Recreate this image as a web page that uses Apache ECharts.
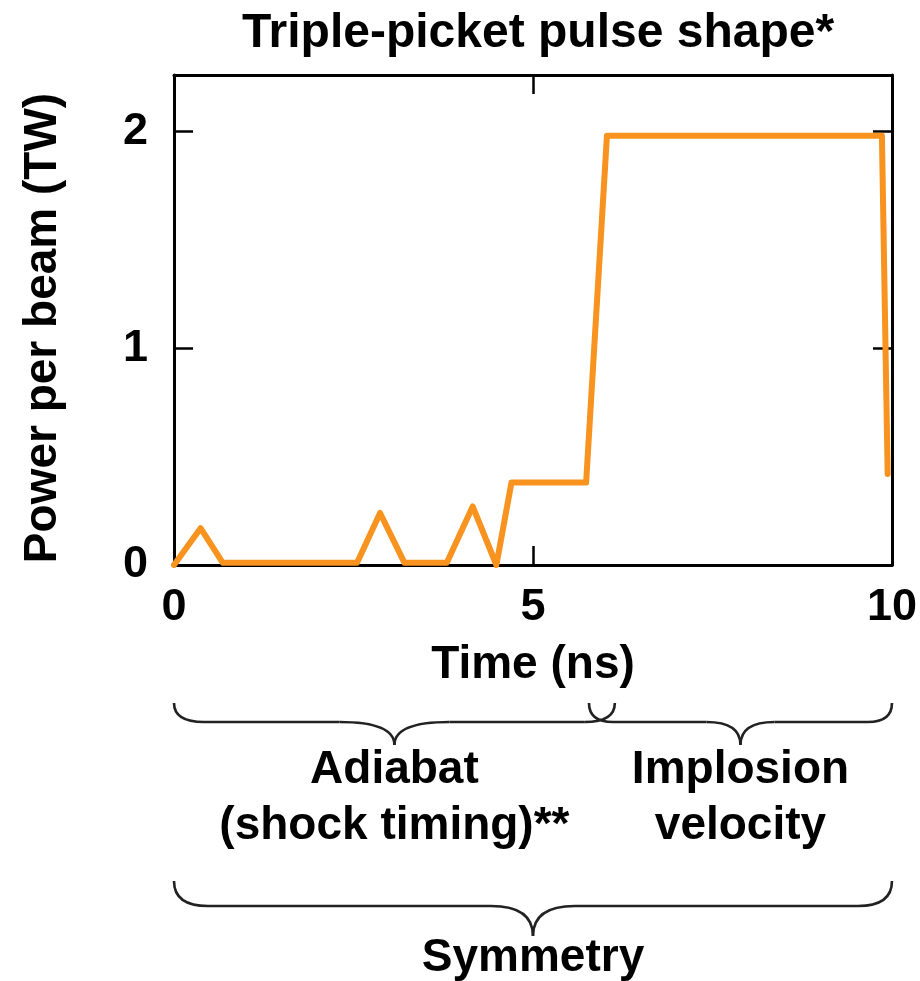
<!DOCTYPE html>
<html>
<head>
<meta charset="utf-8">
<script src="https://cdn.jsdelivr.net/npm/echarts@6/dist/echarts.min.js"></script>
<style>html,body{margin:0;padding:0;background:#fff}#chart{width:920px;height:981px}</style>
</head>
<body>
<div id="chart"></div>
<script>
// ---- data ----
var titleText = 'Triple-picket pulse shape*';
var xName = 'Time (ns)';
var yName = 'Power per beam (TW)';
var times = [0, 0.37, 0.68, 2.55, 2.87, 3.21, 3.80, 4.16, 4.49, 4.70, 5.74, 6.03, 9.86, 9.94];
var power = [0, 0.17, 0.01, 0.01, 0.24, 0.01, 0.01, 0.27, 0.0, 0.38, 0.38, 1.98, 1.98, 0.42];
var xTicks = [0, 5, 10];
var yTicks = [0, 1, 2];
// brace spans in time units and their labels
var braceStarts = [0, 5.78, 0];
var braceEnds = [6.14, 10, 10];
var braceLabels = [['Adiabat', '(shock timing)**'], ['Implosion', 'velocity'], ['Symmetry']];

var FONT = '"Liberation Sans", Arial, Helvetica, sans-serif';
var chart = echarts.init(document.getElementById('chart'), null, {renderer: 'canvas'});

var axisLineStyle = {color: '#000', width: 3};
var tickStyle = {color: '#000', width: 2.5};

var option = {
  backgroundColor: '#fff',
  animation: false,
  title: {
    text: titleText, left: 533, top: 5, textAlign: 'center',
    textStyle: {fontFamily: FONT, fontWeight: 'bold', fontSize: 48, color: '#000'}
  },
  grid: {left: 174, right: 26, top: 75, bottom: 416},
  xAxis: [{
    type: 'value', min: xTicks[0], max: xTicks[xTicks.length - 1], interval: 5,
    position: 'bottom',
    name: xName, nameLocation: 'middle', nameGap: 77,
    nameTextStyle: {fontFamily: FONT, fontWeight: 'bold', fontSize: 46, color: '#000'},
    axisLine: {show: true, onZero: false, lineStyle: axisLineStyle},
    axisTick: {show: true, inside: true, length: 19, lineStyle: tickStyle},
    axisLabel: {margin: 20, fontFamily: FONT, fontWeight: 'bold', fontSize: 45, color: '#000'},
    splitLine: {show: false}
  }, {
    type: 'value', min: xTicks[0], max: xTicks[xTicks.length - 1], interval: 5,
    position: 'top',
    axisLine: {show: true, onZero: false, lineStyle: axisLineStyle},
    axisTick: {show: true, inside: true, length: 19, lineStyle: tickStyle},
    axisLabel: {show: false},
    splitLine: {show: false}
  }],
  yAxis: [{
    type: 'value', min: yTicks[0], max: 2.26, interval: 1,
    position: 'left',
    name: yName, nameLocation: 'middle', nameGap: 108, nameRotate: 90,
    nameTextStyle: {fontFamily: FONT, fontWeight: 'bold', fontSize: 46, color: '#000', padding: [0, 16, 0, 0]},
    axisLine: {show: true, onZero: false, lineStyle: axisLineStyle},
    axisTick: {show: true, inside: true, length: 19, lineStyle: tickStyle},
    axisLabel: {margin: 26, fontFamily: FONT, fontWeight: 'bold', fontSize: 45, color: '#000',
      formatter: function (v) { return yTicks.indexOf(v) >= 0 ? String(v) : ''; }},
    splitLine: {show: false}
  }, {
    type: 'value', min: yTicks[0], max: 2.26, interval: 1,
    position: 'right',
    axisLine: {show: true, onZero: false, lineStyle: axisLineStyle},
    axisTick: {show: true, inside: true, length: 19, lineStyle: tickStyle},
    axisLabel: {show: false},
    splitLine: {show: false}
  }],
  series: [{
    type: 'line',
    data: times.map(function (t, i) { return [t, power[i]]; }),
    showSymbol: false,
    symbol: 'none',
    lineStyle: {color: '#F7931E', width: 6, join: 'round', cap: 'round'},
    z: 5
  }]
};
chart.setOption(option);

var braceStyle = {fill: null, stroke: '#222', lineWidth: 2.6};
function quad(x1, y1, cx, cy, x2, y2) {
  return {type: 'bezierCurve', shape: {x1: x1, y1: y1, x2: x2, y2: y2, cpx1: cx, cpy1: cy}, style: braceStyle};
}
function seg(x1, y1, x2, y2) {
  return {type: 'line', shape: {x1: x1, y1: y1, x2: x2, y2: y2}, style: braceStyle};
}
function braceParts(x1, x2, xm, y0, y1, y2, r1, r2) {
  return [
    quad(x1, y0, x1, y1, x1 + r1, y1),
    seg(x1 + r1, y1, xm - r2, y1),
    quad(xm - r2, y1, xm, y1, xm, y2),
    quad(xm, y2, xm, y1, xm + r2, y1),
    seg(xm + r2, y1, x2 - r1, y1),
    quad(x2 - r1, y1, x2, y1, x2, y0)
  ];
}

var braceGeom = [
  {y0: 703, y1: 722, y2: 745, r1: 30, r2: 55, ty: [770, 826]},
  {y0: 703, y1: 722, y2: 745, r1: 24, r2: 34, ty: [770, 826]},
  {y0: 881, y1: 906, y2: 936, r1: 34, r2: 42, ty: [958]}
];
var elements = [];
for (var i = 0; i < braceStarts.length; i++) {
  var px1 = chart.convertToPixel({xAxisIndex: 0}, braceStarts[i]);
  var px2 = chart.convertToPixel({xAxisIndex: 0}, braceEnds[i]);
  var pm = (px1 + px2) / 2;
  var g = braceGeom[i];
  elements = elements.concat(braceParts(px1, px2, pm, g.y0, g.y1, g.y2, g.r1, g.r2));
  for (var k = 0; k < braceLabels[i].length; k++) {
    elements.push({
      type: 'text', x: pm, y: g.ty[k],
      style: {text: braceLabels[i][k], fontFamily: FONT, fontWeight: 'bold', fontSize: 46,
        fill: '#000', align: 'center', verticalAlign: 'middle'}
    });
  }
}
chart.setOption({graphic: {elements: elements}});
</script>
</body>
</html>
